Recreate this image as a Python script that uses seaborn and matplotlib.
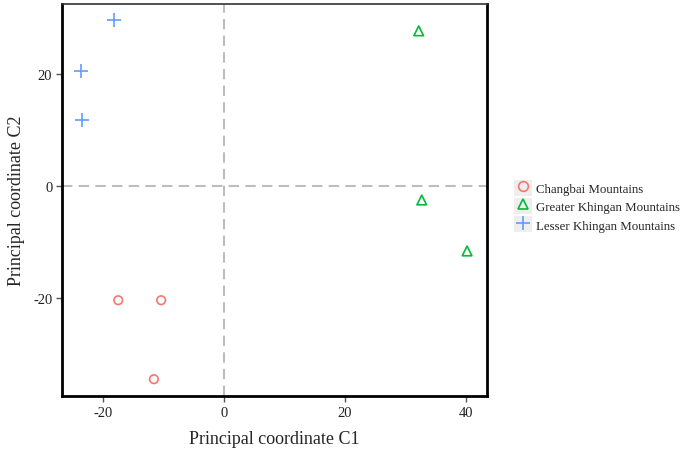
import pandas as pd
import seaborn as sns
import matplotlib.pyplot as plt
from matplotlib.lines import Line2D
from matplotlib.patches import Patch
from matplotlib.legend_handler import HandlerTuple

# values
groups = ['Changbai Mountains'] * 3 + ['Greater Khingan Mountains'] * 3 + ['Lesser Khingan Mountains'] * 3
c1 = [-17.5, -10.4, -11.6, 32.2, 32.7, 40.2, -18.2, -23.6, -23.5]
c2 = [-20.4, -20.4, -34.5, 27.7, -2.5, -11.6, 29.6, 20.5, 11.8]

names = ['Changbai Mountains', 'Greater Khingan Mountains', 'Lesser Khingan Mountains']
colors = ['#F8766D', '#00BA38', '#619CFF']
markers = ['o', '^', '+']
sizes = [38, 48, 90]

df = pd.DataFrame({'Group': groups, 'C1': c1, 'C2': c2})

sns.set_style('white')
plt.rcParams['font.family'] = ['Liberation Serif', 'DejaVu Serif']
plt.rcParams['axes.unicode_minus'] = False

fig = plt.figure(figsize=(6.85, 4.52), dpi=100)
ax = fig.add_axes([0.0905, 0.1217, 0.6205, 0.8673])

ax.axhline(0, color='#BDBDBD', ls=(0, (5, 3)), lw=1.5, zorder=1)
ax.axvline(0, color='#BDBDBD', ls=(0, (5, 3)), lw=1.5, zorder=1)

for name, col, mk, sz in zip(names, colors, markers, sizes):
    sub = df[df['Group'] == name]
    if mk == '+':
        sns.scatterplot(data=sub, x='C1', y='C2', marker=mk, color=col, s=sz,
                        linewidth=1.2, ax=ax, legend=False, zorder=3)
    else:
        sns.scatterplot(data=sub, x='C1', y='C2', marker=mk, s=sz,
                        facecolors='none', edgecolor=col, linewidth=1.2,
                        ax=ax, legend=False, zorder=3)

ax.set_xlim(-26.8, 43.5)
ax.set_ylim(-37.5, 32.5)
ax.set_xticks([-20, 0, 20, 40])
ax.set_yticks([-20, 0, 20])
ax.tick_params(axis='both', direction='out', length=4, width=1, color='#555555',
               labelsize=10.5, labelcolor='#222222', bottom=True, left=True, pad=3)

for side in ['left', 'bottom', 'right']:
    ax.spines[side].set_linewidth(2)
    ax.spines[side].set_color('black')
ax.spines['top'].set_linewidth(1.2)
ax.spines['top'].set_color('#333333')

ax.set_xlabel('Principal coordinate C1', fontsize=13, labelpad=8)
ax.set_ylabel('Principal coordinate C2', fontsize=13, labelpad=6)

handles = []
for col, mk, sz in zip(colors, markers, sizes):
    bg = Patch(facecolor='#EEEEEE', edgecolor='none')
    if mk == '+':
        pt = Line2D([], [], marker=mk, color=col, ls='none', markersize=10, markeredgewidth=1.2)
    else:
        pt = Line2D([], [], marker=mk, ls='none', markerfacecolor='none',
                    markeredgecolor=col, markersize=7, markeredgewidth=1.2)
    handles.append((bg, pt))

fig.legend(handles, names, loc='center left', bbox_to_anchor=(0.736, 0.542),
           frameon=False, fontsize=9.3, handlelength=1.35, handleheight=1.5,
           handletextpad=0.3, labelspacing=0.2, borderpad=0.3,
           handler_map={tuple: HandlerTuple(ndivide=1, pad=0)})

fig.savefig('out.png', dpi=100)
